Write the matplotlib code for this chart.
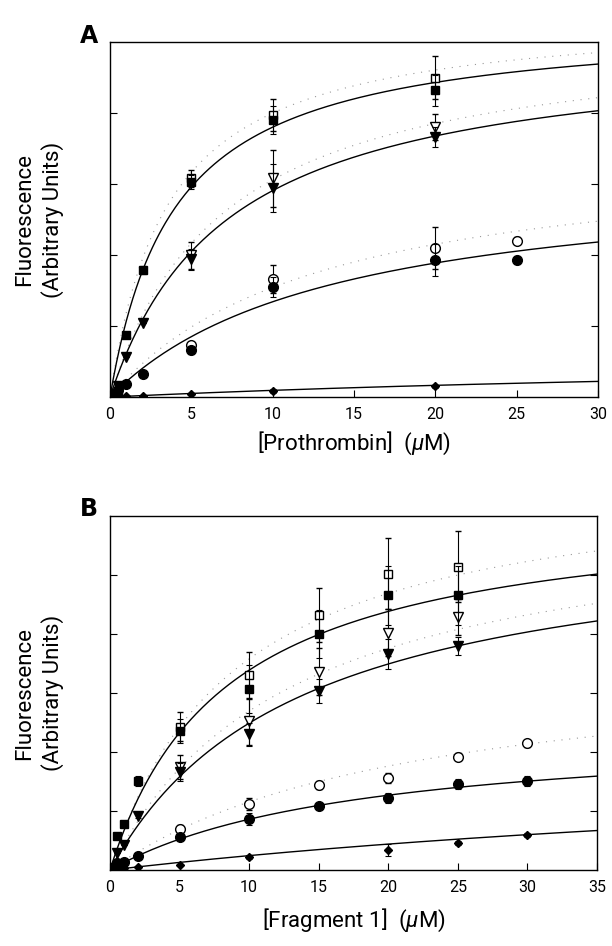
import numpy as np
import matplotlib
matplotlib.use("Agg")
import matplotlib.pyplot as plt

plt.rcParams['font.family'] = ['Roboto', 'DejaVu Sans']
plt.rcParams['mathtext.fontset'] = 'custom'
plt.rcParams['mathtext.it'] = 'Roboto:italic'
plt.rcParams['mathtext.rm'] = 'Roboto'

# ---------------- Panel A data (Prothrombin, uM) ----------------
a_sqF_x = [0, 0.5, 1, 2, 5, 10, 20]
a_sqF_y = [0.04, 0.08, 0.87, 1.79, 3.03, 3.90, 4.32]
a_sqF_e = [0, 0, 0, 0.06, 0.1, 0.20, 0.22]
a_sqO_x = [0, 5, 10, 20]
a_sqO_y = [0.06, 3.08, 3.97, 4.50]
a_sqO_e = [0.0, 0.12, 0.23, 0.30]

a_triF_x = [0, 0.5, 1, 2, 5, 10, 20]
a_triF_y = [0.03, 0.15, 0.56, 1.04, 1.94, 2.94, 3.66]
a_triF_e = [0, 0, 0, 0, 0.15, 0.34, 0.14]
a_triO_x = [5, 10, 20]
a_triO_y = [2.00, 3.08, 3.80]
a_triO_e = [0.19, 0.40, 0.18]

a_cirF_x = [0, 0.5, 1, 2, 5, 10, 20, 25]
a_cirF_y = [0.03, 0.10, 0.18, 0.32, 0.66, 1.55, 1.93, 1.93]
a_cirF_e = [0, 0, 0, 0, 0.05, 0.14, 0.23, 0.06]
a_cirO_x = [5, 10, 20, 25]
a_cirO_y = [0.73, 1.66, 2.10, 2.20]
a_cirO_e = [0.05, 0.20, 0.30, 0.05]

a_diaF_x = [0, 0.5, 1, 2, 5, 10, 20]
a_diaF_y = [0.0, 0.01, 0.01, 0.02, 0.04, 0.09, 0.15]
a_diaF_e = [0, 0, 0, 0, 0, 0.03, 0.02]

# fitted binding curves (Fmax, Kd) for panel A: solid (filled), dotted (open)
a_fit_solid_Fmax = [5.31, 5.00, 3.18, 0.66]
a_fit_solid_Kd = [3.97, 7.20, 13.7, 60.0]
a_fit_dot_Fmax = [5.43, 5.20, 3.55]
a_fit_dot_Kd = [3.58, 7.00, 13.0]

# ---------------- Panel B data (Fragment 1, uM) ----------------
b_sqF_x = [0, 0.5, 1, 2, 5, 10, 15, 20, 25]
b_sqF_y = [0.05, 0.58, 0.78, 1.51, 2.36, 3.07, 4.00, 4.66, 4.66]
b_sqF_e = [0, 0, 0.05, 0.08, 0.2, 0.4, 0.4, 0.5, 0.5]
b_sqO_x = [5, 10, 15, 20, 25]
b_sqO_y = [2.43, 3.30, 4.32, 5.02, 5.14]
b_sqO_e = [0.25, 0.40, 0.46, 0.60, 0.60]

b_triF_x = [0.5, 1, 2, 5, 10, 15, 20, 25]
b_triF_y = [0.29, 0.42, 0.92, 1.66, 2.30, 3.03, 3.66, 3.80]
b_triF_e = [0, 0, 0.04, 0.15, 0.2, 0.2, 0.25, 0.15]
b_triO_x = [5, 10, 15, 20, 25]
b_triO_y = [1.75, 2.52, 3.36, 4.02, 4.29]
b_triO_e = [0.20, 0.40, 0.40, 0.40, 0.30]

b_cirF_x = [0, 0.5, 1, 2, 5, 10, 15, 20, 25, 30]
b_cirF_y = [0.03, 0.12, 0.14, 0.24, 0.56, 0.86, 1.08, 1.22, 1.46, 1.51]
b_cirF_e = [0, 0, 0, 0, 0.05, 0.1, 0.05, 0.08, 0.08, 0.08]
b_cirO_x = [5, 10, 15, 20, 25, 30]
b_cirO_y = [0.69, 1.12, 1.44, 1.56, 1.92, 2.15]
b_cirO_e = [0.08, 0.10, 0.07, 0.08, 0.06, 0.06]

b_diaF_x = [0, 0.5, 1, 2, 5, 10, 20, 25, 30]
b_diaF_y = [0.0, 0.02, 0.03, 0.05, 0.08, 0.22, 0.34, 0.46, 0.59]
b_diaF_e = [0, 0, 0, 0, 0, 0.04, 0.1, 0.03, 0.03]

b_fit_solid_Fmax = [6.21, 5.85, 2.41, 2.20]
b_fit_solid_Kd = [8.33, 13.5, 18.0, 80.0]
b_fit_dot_Fmax = [6.80, 6.20, 3.70]
b_fit_dot_Kd = [9.0, 13.0, 22.0]

a_xticks = [0, 5, 10, 15, 20, 25, 30]
b_xticks = [0, 5, 10, 15, 20, 25, 30, 35]

fig = plt.figure(figsize=(6.12, 9.46), dpi=100)
axA = fig.add_axes([0.1797, 0.5803, 0.7974, 0.3753])
axB = fig.add_axes([0.1797, 0.0803, 0.7958, 0.3742])


def draw(ax, sqF, sqO, triF, triO, cirF, cirO, diaF,
         sFmax, sKd, dFmax, dKd, xmax, ymax, xticks):
    xs = np.linspace(0, xmax, 300)
    for F, K in zip(sFmax, sKd):
        ax.plot(xs, F * xs / (K + xs), color='black', lw=1.0, zorder=2)
    for F, K in zip(dFmax, dKd):
        ax.plot(xs, F * xs / (K + xs), color='0.6', lw=0.8,
                linestyle=(0, (1, 6)), zorder=1)
    ms = 6
    ekw = dict(ecolor='black', elinewidth=0.8, capsize=2.5, capthick=0.8,
               linestyle='none')
    # open symbols with error bars
    ax.errorbar(sqO[0], sqO[1], yerr=sqO[2], marker='s', mfc='white', mec='black',
                ms=ms, mew=1.0, zorder=4, **ekw)
    ax.errorbar(triO[0], triO[1], yerr=triO[2], marker='v', mfc='white', mec='black',
                ms=ms + 1, mew=1.0, zorder=4, **ekw)
    ax.errorbar(cirO[0], cirO[1], yerr=cirO[2], marker='o', mfc='white', mec='black',
                ms=ms + 1, mew=1.0, zorder=4, **ekw)
    # filled symbols with error bars
    ax.errorbar(sqF[0], sqF[1], yerr=sqF[2], marker='s', mfc='black', mec='black',
                ms=ms, zorder=5, **ekw)
    ax.errorbar(triF[0], triF[1], yerr=triF[2], marker='v', mfc='black', mec='black',
                ms=ms + 1, zorder=5, **ekw)
    ax.errorbar(cirF[0], cirF[1], yerr=cirF[2], marker='o', mfc='black', mec='black',
                ms=ms + 1, zorder=5, **ekw)
    ax.errorbar(diaF[0], diaF[1], yerr=diaF[2], marker='D', mfc='black', mec='black',
                ms=4.5, zorder=5, **ekw)

    ax.set_xlim(0, xmax)
    ax.set_ylim(0, ymax)
    ax.set_xticks(xticks)
    ax.set_xticklabels([str(t) for t in xticks])
    ax.set_yticks(np.arange(1, ymax))
    ax.set_yticklabels([])
    ax.tick_params(direction='in', length=5, width=0.8, labelsize=11.5,
                   right=True, top=False, pad=7)
    for s in ax.spines.values():
        s.set_linewidth(1.0)


draw(axA, (a_sqF_x, a_sqF_y, a_sqF_e), (a_sqO_x, a_sqO_y, a_sqO_e),
     (a_triF_x, a_triF_y, a_triF_e), (a_triO_x, a_triO_y, a_triO_e),
     (a_cirF_x, a_cirF_y, a_cirF_e), (a_cirO_x, a_cirO_y, a_cirO_e),
     (a_diaF_x, a_diaF_y, a_diaF_e),
     a_fit_solid_Fmax, a_fit_solid_Kd, a_fit_dot_Fmax, a_fit_dot_Kd,
     30, 5, a_xticks)

draw(axB, (b_sqF_x, b_sqF_y, b_sqF_e), (b_sqO_x, b_sqO_y, b_sqO_e),
     (b_triF_x, b_triF_y, b_triF_e), (b_triO_x, b_triO_y, b_triO_e),
     (b_cirF_x, b_cirF_y, b_cirF_e), (b_cirO_x, b_cirO_y, b_cirO_e),
     (b_diaF_x, b_diaF_y, b_diaF_e),
     b_fit_solid_Fmax, b_fit_solid_Kd, b_fit_dot_Fmax, b_fit_dot_Kd,
     35, 6, b_xticks)

lab = dict(fontsize=16, fontweight='normal', color='black')
axA.set_xlabel(r'[Prothrombin]  ($\mathit{\mu}$M)', labelpad=6, **lab)
axB.set_xlabel(r'[Fragment 1]  ($\mathit{\mu}$M)', labelpad=9, **lab)
for ax in (axA, axB):
    ax.set_ylabel('Fluorescence\n(Arbitrary Units)', labelpad=26,
                  linespacing=1.35, **lab)

fig.text(0.145, 0.962, 'A', fontsize=17, fontweight='bold', ha='center', va='center',
         family=['DejaVu Sans'])
fig.text(0.145, 0.462, 'B', fontsize=17, fontweight='bold', ha='center', va='center',
         family=['DejaVu Sans'])

fig.savefig('out.png', dpi=100)
